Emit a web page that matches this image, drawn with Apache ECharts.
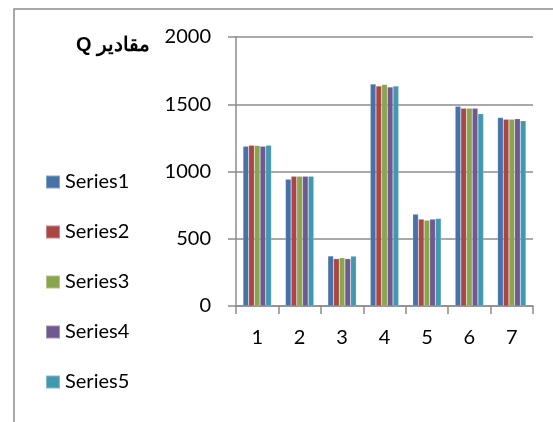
<!DOCTYPE html>
<html>
<head>
<meta charset="utf-8">
<script src="https://cdn.jsdelivr.net/npm/echarts@6/dist/echarts.min.js"></script>
<style>html,body{margin:0;padding:0;background:#fff;}#c{width:553px;height:422px;}</style>
</head>
<body>
<div id="c"></div>
<script>
const categories = ['1', '2', '3', '4', '5', '6', '7'];
const series1 = [1188, 943, 372, 1650, 683, 1485, 1401];
const series2 = [1195, 965, 352, 1635, 646, 1470, 1388];
const series3 = [1193, 965, 359, 1646, 638, 1470, 1388];
const series4 = [1188, 965, 352, 1628, 646, 1470, 1393];
const series5 = [1195, 965, 371, 1635, 651, 1430, 1378];
const seriesNames = ['Series1', 'Series2', 'Series3', 'Series4', 'Series5'];
const yTicks = [0, 500, 1000, 1500, 2000];
const titleText = 'مقادير Q';

const colors = ['#4672A8', '#AA4643', '#89A54E', '#71588F', '#4198AF'];
const allData = [series1, series2, series3, series4, series5];
const font = 'Lato, "Liberation Sans", sans-serif';

const chart = echarts.init(document.getElementById('c'));
chart.setOption({
  animation: false,
  color: colors,
  textStyle: { fontFamily: font },
  grid: { left: 236, right: 20, top: 37, bottom: 116 },
  legend: {
    orient: 'vertical',
    left: 45,
    top: 172,
    padding: 0,
    itemWidth: 14,
    itemHeight: 13,
    itemGap: 30,
    icon: 'rect',
    textStyle: { fontSize: 20, color: '#000', fontFamily: font, lineHeight: 20 },
    data: seriesNames
  },
  graphic: [
    {
      type: 'rect',
      shape: { x: 14, y: 9, width: 700, height: 600 },
      style: { fill: 'none', stroke: '#8c8c8c', lineWidth: 1.5 },
      silent: true
    },
    {
      type: 'text',
      right: 553 - 150,
      top: 35,
      style: { text: '\u202B' + titleText + '\u202C', font: 'bold 20px "Liberation Sans", Arial, sans-serif', fill: '#000', textAlign: 'right' }
    }
  ],
  xAxis: {
    type: 'category',
    data: categories,
    axisLine: { lineStyle: { color: '#8c8c8c', width: 1.5 } },
    axisTick: { show: true, length: 8, lineStyle: { color: '#8c8c8c', width: 1.5 } },
    axisLabel: { fontSize: 20, color: '#000', margin: 22, fontFamily: font }
  },
  yAxis: {
    type: 'value',
    min: yTicks[0],
    max: yTicks[yTicks.length - 1],
    interval: 500,
    axisLine: { show: true, lineStyle: { color: '#8c8c8c', width: 1.5 } },
    axisTick: { show: true, length: 8, lineStyle: { color: '#8c8c8c', width: 1.5 } },
    axisLabel: { fontSize: 20, color: '#000', margin: 25, fontFamily: font, formatter: v => String(v) },
    splitLine: { lineStyle: { color: '#8c8c8c', width: 1.5 } }
  },
  series: seriesNames.map((n, i) => ({
    name: n,
    type: 'bar',
    data: allData[i],
    barGap: '0%',
    barCategoryGap: '33%',
    itemStyle: { color: colors[i], borderColor: 'rgba(255,255,255,0.35)', borderWidth: 0.5 }
  }))
});
</script>
</body>
</html>
